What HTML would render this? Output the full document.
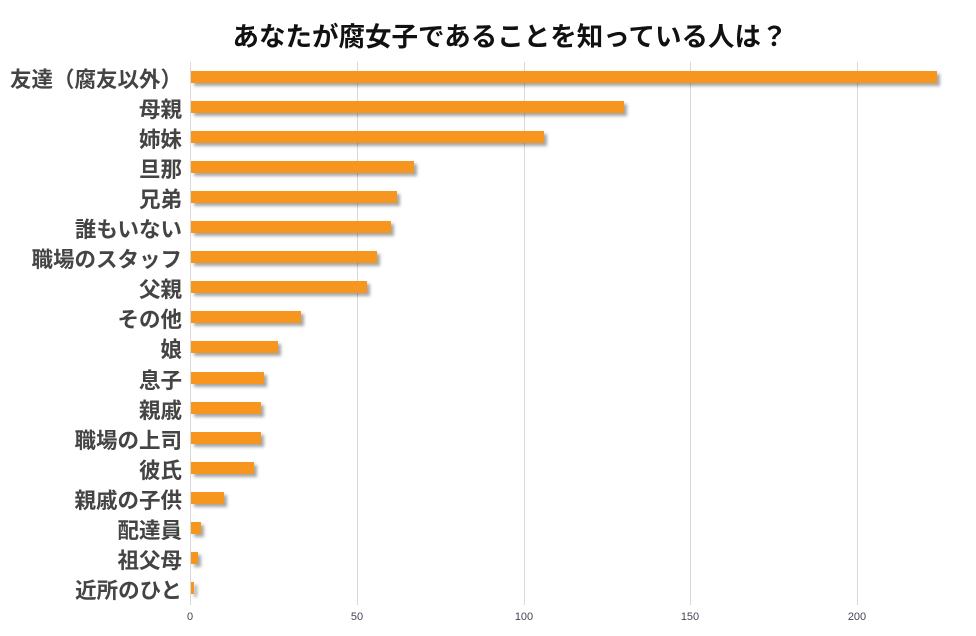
<!DOCTYPE html>
<html><head><meta charset="utf-8"><style>
body{margin:0;width:976px;height:636px;background:#fff;overflow:hidden;position:relative;font-family:"Liberation Sans","Noto Sans CJK JP",sans-serif}
.t{position:absolute;left:0;width:1020px;top:15px;text-align:center;font-size:26.5px;font-weight:bold;color:#111}
.g{position:absolute;top:62px;height:543px;width:1px;background:#d9d9d9}
.l{position:absolute;right:794px;font-size:21.5px;font-weight:bold;color:#444;white-space:nowrap;line-height:24px}
.b{position:absolute;left:191px;height:12px;background:#f7961e;box-shadow:3px 3px 3px rgba(0,0,0,0.35)}
.x{position:absolute;top:611px;font-size:11px;color:#445;width:40px;text-align:center}
</style></head><body>
<div class="t">あなたが腐女子であることを知っている人は？</div>
<div class="g" style="left:190px"></div>
<div class="g" style="left:357px"></div>
<div class="g" style="left:524px"></div>
<div class="g" style="left:690px"></div>
<div class="g" style="left:857px"></div>
<div class="x" style="left:170px">0</div>
<div class="x" style="left:337px">50</div>
<div class="x" style="left:504px">100</div>
<div class="x" style="left:670px">150</div>
<div class="x" style="left:837px">200</div>
<script>
var d=[["友達（腐友以外）",224],["母親",130],["姉妹",106],["旦那",67],["兄弟",62],["誰もいない",60],["職場のスタッフ",56],["父親",53],["その他",33],["娘",26],["息子",22],["親戚",21],["職場の上司",21],["彼氏",19],["親戚の子供",10],["配達員",3],["祖父母",2],["近所のひと",1]];
var h="";d.forEach(function(r,i){var y=71+i*30.05;
h+='<div class="l" style="top:'+(y-3)+'px">'+r[0]+'</div><div class="b" style="top:'+y+'px;width:'+(r[1]*3.33)+'px"></div>';});
document.write(h);
</script>
</body></html>
